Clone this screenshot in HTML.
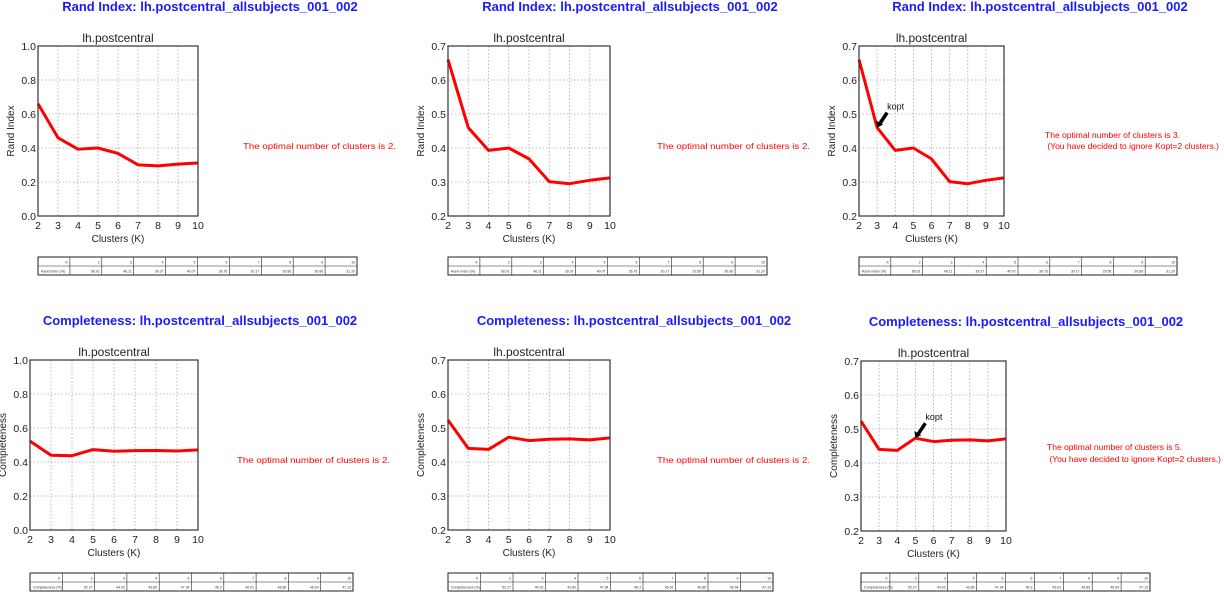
<!DOCTYPE html>
<html><head><meta charset="utf-8"><style>
body{margin:0;background:#fff;width:1224px;height:595px;overflow:hidden}
svg{display:block;font-family:"Liberation Sans",Arial,sans-serif}
</style></head><body>
<svg id="s" width="1224" height="595" xmlns="http://www.w3.org/2000/svg"></svg>
<script>
const s=document.getElementById('s');let h='';
const rand=[0.66,0.46,0.393,0.40,0.368,0.301,0.295,0.305,0.312];
const comp=[0.523,0.44,0.437,0.473,0.463,0.467,0.468,0.465,0.471];
const randT=['66.01','46.11','39.37','40.07','36.76','30.17','29.58','30.66','31.20'];
const compT=['52.27','44.02','43.80','47.34','46.3','46.61','46.86','46.54','47.13'];
function panel(o){
 const {x0,x1,y0,y1,ymin,ymax,data,ylab,title,tx,ty,msg,tabx0,tabx1,taby,tab,tlab,kopt}=o;
 h+=`<text x="${tx}" y="${ty}" fill="#1a1aff" font-weight="bold" font-size="13" text-anchor="middle">${title}</text>`;
 h+=`<text x="${(x0+x1)/2}" y="${y0-4}" font-size="12" text-anchor="middle" fill="#222">lh.postcentral</text>`;
 const X=k=>x0+(k-2)*(x1-x0)/8, Y=v=>y1-(v-ymin)*(y1-y0)/(ymax-ymin);
 for(let k=3;k<10;k++)h+=`<line x1="${X(k)}" x2="${X(k)}" y1="${y0}" y2="${y1}" stroke="#aaa" stroke-dasharray="1.5,2" stroke-width="0.8"/>`;
 const steps=Math.round((ymax-ymin)/ (ymax-ymin>0.6?0.2:0.1));const st=(ymax-ymin)/steps;
 for(let i=0;i<=steps;i++){const v=ymin+i*st;const y=Y(v);
  if(i>0&&i<steps)h+=`<line x1="${x0}" x2="${x1}" y1="${y}" y2="${y}" stroke="#aaa" stroke-dasharray="1.5,2" stroke-width="0.8"/>`;
  h+=`<text x="${x0-2}" y="${y+4}" font-size="10.5" text-anchor="end" fill="#222">${v.toFixed(1)}</text>`;}
 for(let k=2;k<=10;k++)h+=`<text x="${X(k)}" y="${y1+13}" font-size="10.5" text-anchor="middle" fill="#222">${k}</text>`;
 h+=`<text x="${(x0+x1)/2}" y="${y1+26}" font-size="10" text-anchor="middle" fill="#222">Clusters (K)</text>`;
 h+=`<text transform="translate(${x0-24},${(y0+y1)/2}) rotate(-90)" font-size="10" text-anchor="middle" fill="#222">${ylab}</text>`;
 h+=`<polyline fill="none" stroke="#f00" stroke-width="3" stroke-linejoin="round" points="${data.map((v,i)=>X(i+2)+','+Y(v)).join(' ')}"/>`;
 h+=`<rect x="${x0}" y="${y0}" width="${x1-x0}" height="${y1-y0}" fill="none" stroke="#333" stroke-width="1.2"/>`;
 if(kopt){const px=X(kopt),py=Y(data[kopt-2]);
  h+=`<line x1="${px+10}" y1="${py-15}" x2="${px+2}" y2="${py-3}" stroke="#000" stroke-width="3.5"/><polygon points="${px},${py} ${px-1},${py-7} ${px+6},${py-3}" fill="#000"/>`;
  h+=`<text x="${px+10}" y="${py-18}" font-size="9" fill="#111">kopt</text>`;}
 msg.forEach(m=>h+=`<text x="${m[0]}" y="${m[1]}" font-size="8.5" fill="#f00" textLength="${m[3]}" lengthAdjust="spacingAndGlyphs" xml:space="preserve">${m[2]}</text>`);
 const cw=(tabx1-tabx0)/10;
 h+=`<rect x="${tabx0}" y="${taby}" width="${tabx1-tabx0}" height="18" fill="none" stroke="#222" stroke-width="1"/><line x1="${tabx0}" x2="${tabx1}" y1="${taby+9}" y2="${taby+9}" stroke="#222" stroke-width="0.6"/>`;
 for(let i=0;i<10;i++){const cx=tabx0+i*cw;if(i)h+=`<line x1="${cx}" x2="${cx}" y1="${taby}" y2="${taby+18}" stroke="#222" stroke-width="0.6"/>`;
  h+=`<text x="${cx+cw-2}" y="${taby+6.5}" font-size="3.5" text-anchor="end" fill="#333">${i?i+1:'K'}</text>`;
  h+=`<text x="${i?cx+cw-2:cx+3}" y="${taby+15.5}" font-size="3.5" text-anchor="${i?'end':'start'}" fill="#333">${i?tab[i-1]:tlab}</text>`;}
}
const R='Rand Index: lh.postcentral_allsubjects_001_002',C='Completeness: lh.postcentral_allsubjects_001_002';
const m2=(x,y)=>[[x,y,'The optimal number of clusters is 2.',153]];
panel({x0:38,x1:198,y0:46,y1:216,ymin:0,ymax:1,data:rand,ylab:'Rand Index',title:R,tx:210,ty:11,msg:m2(243,149),tabx0:38,tabx1:357,taby:257,tab:randT,tlab:'Rand Index (%)'});
panel({x0:448,x1:610,y0:46,y1:216,ymin:0.2,ymax:0.7,data:rand,ylab:'Rand Index',title:R,tx:630,ty:11,msg:m2(657,149),tabx0:448,tabx1:767,taby:257,tab:randT,tlab:'Rand Index (%)'});
panel({x0:859,x1:1004,y0:46,y1:216,ymin:0.2,ymax:0.7,data:rand,ylab:'Rand Index',title:R,tx:1040,ty:11,msg:[[1045,138,'The optimal number of clusters is 3.',135],[1045,149,' (You have decided to ignore Kopt=2 clusters.)',174]],tabx0:859,tabx1:1177,taby:257,tab:randT,tlab:'Rand Index (%)',kopt:3});
panel({x0:30,x1:198,y0:360,y1:530,ymin:0,ymax:1,data:comp,ylab:'Completeness',title:C,tx:200,ty:325,msg:m2(237,463),tabx0:30,tabx1:353,taby:573,tab:compT,tlab:'Completeness (%)'});
panel({x0:448,x1:610,y0:360,y1:530,ymin:0.2,ymax:0.7,data:comp,ylab:'Completeness',title:C,tx:634,ty:325,msg:m2(657,463),tabx0:448,tabx1:773,taby:573,tab:compT,tlab:'Completeness (%)'});
panel({x0:861,x1:1006,y0:361,y1:531,ymin:0.2,ymax:0.7,data:comp,ylab:'Completeness',title:C,tx:1026,ty:326,msg:[[1047,450,'The optimal number of clusters is 5.',135],[1047,462,' (You have decided to ignore Kopt=2 clusters.)',174]],tabx0:861,tabx1:1150,taby:573,tab:compT,tlab:'Completeness (%)',kopt:5});
s.innerHTML=h;
</script>
</body></html>
